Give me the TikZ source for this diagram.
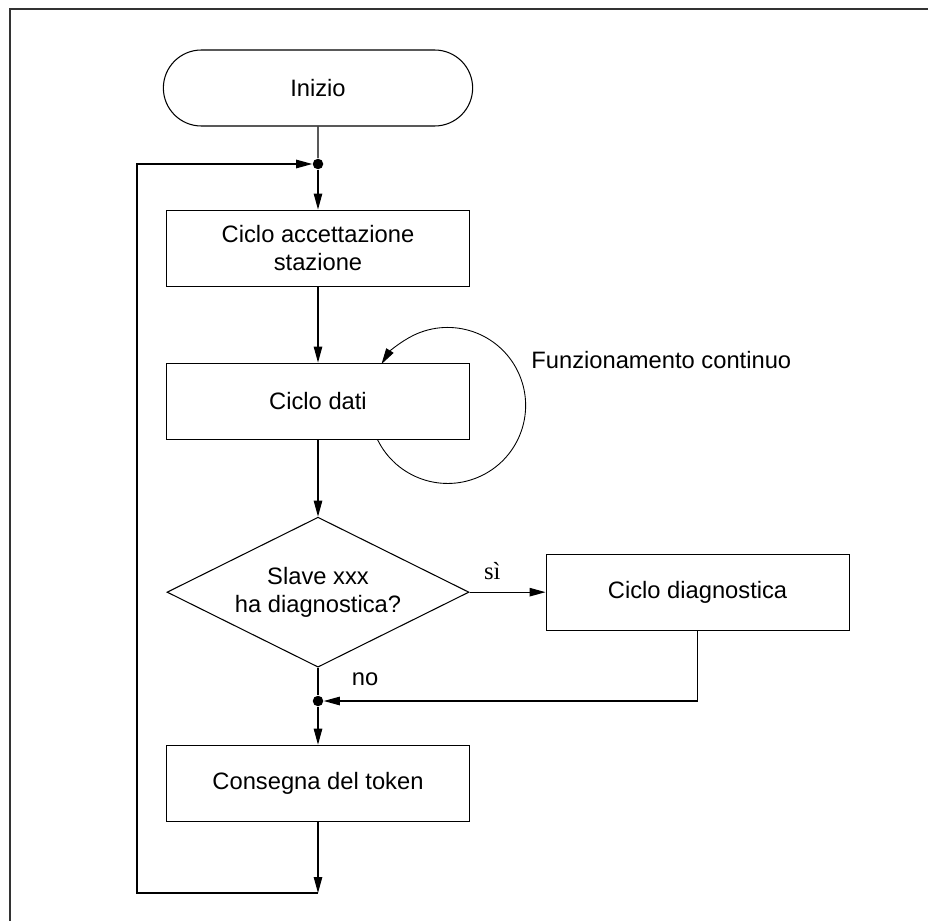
\documentclass[tikz,border=0pt]{standalone}
\usepackage{fontspec}
\setmainfont{Liberation Sans}
\newfontfamily\serifnote{Liberation Serif}
\usetikzlibrary{arrows.meta,positioning,shapes.geometric,shapes.misc}

\begin{document}
\begin{tikzpicture}[
  font=\fontsize{13.5}{16}\selectfont,
  line width=0.6pt,
  box/.style={draw, rectangle, minimum width=6.06cm, minimum height=1.52cm, align=center},
  term/.style={draw, rounded rectangle, minimum width=6.42cm, minimum height=1.52cm},
  check/.style={draw, diamond, aspect=2, inner sep=0pt, minimum width=6.04cm, minimum height=3cm, align=center},
  dot/.style={circle, fill, inner sep=0pt, minimum size=0.21cm},
  arr/.style={-{Triangle[length=0.32cm, width=0.17cm]}}
]
\useasboundingbox (0,0) rectangle (18.56,-18.42);
\draw[line width=0.8pt, black!80] (0.2,-18.42) |- (18.56,-0.18);

\node[term] (start) at (6.36,-1.76) {Inizio};
\node[box, below=1.66cm of start] (accept) {Ciclo accettazione\\stazione};
\node[box, below=1.52cm of accept] (data) {Ciclo dati};
\node[check, below=1.54cm of data] (slave) {Slave xxx\\ha diagnostica?};
\node[box, right=1.52cm of slave] (diag) {Ciclo diagnostica};
\node[box, below=1.54cm of slave] (token) {Consegna del token};

\node[dot] (join1) at (6.36,-3.28) {};
\node[dot] (join2) at (6.36,-14.02) {};
\coordinate (loopend) at (6.36,-17.86);
\coordinate (loopcorner) at (2.74,-17.86);

\draw (start) -- (join1);
\draw[arr] (join1) -- (accept);
\draw[arr] (accept) -- (data);
\draw[arr] (data) -- (slave);
\draw[arr] (slave.east) -- node[above=0.12cm, pos=0.3, font=\serifnote\fontsize{14}{16}\selectfont] {sì} (diag.west);
\draw (slave.south) -- (join2);
\draw[arr] (diag.south) |- (join2);
\draw[arr] (join2) -- (token);
\draw[arr] (token) -- (loopend);
\draw[arr] (loopend) -- (loopcorner) |- (join1);

% continuous loop round the data box
\draw[arr, line width=0.5pt] ([xshift=-1.85cm]data.south east) arc[start angle=206, end angle=508, radius=1.56cm];
\node[anchor=west] (loopnote) at (10.5,-7.2) {Funzionamento continuo};
\node[anchor=west] (nolabel) at ([xshift=0.55cm, yshift=-0.24cm]slave.south) {no};
\end{tikzpicture}
\end{document}
